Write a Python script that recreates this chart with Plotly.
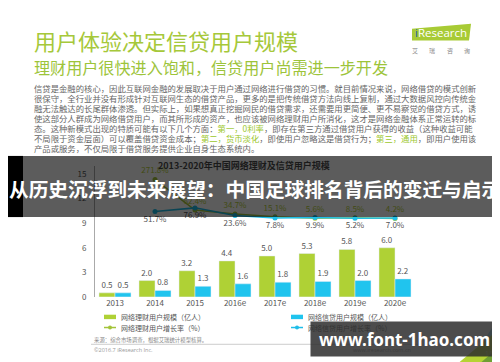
import plotly.graph_objects as go

# ---------------- data ----------------
years = ["2013", "2014", "2015", "2016e", "2017e", "2018e", "2019e", "2020e"]
wealth_users = [0.5, 2.0, 3.2, 4.4, 5.0, 5.3, 5.8, 6.0]      # 网络理财用户规模（亿人）
credit_users = [0.5, 0.8, 1.3, 1.6, 1.8, 1.9, 2.0, 2.2]      # 网络信贷用户规模（亿人）
wealth_growth = [None, 271.8, 62.4, 34.7, 15.1, 5.6, 8.5, 4.2]  # 网络理财用户增长率（%）
credit_growth = [None, 51.7, 76.9, 23.6, 7.8, 9.9, 5.2, 7.0]    # 网络信贷用户增长率（%）
y_ticks = [0, 3, 6, 9, 12, 15]

title_main = "用户体验决定信贷用户规模"
title_sub = "理财用户很快进入饱和，信贷用户尚需进一步开发"
chart_title = "2013-2020年中国网络理财及信贷用户规模"
banner = "从历史沉浮到未来展望：中国足球排名背后的变迁与启示"
legend_names = ["网络理财用户规模（亿人）", "网络信贷用户规模（亿人）",
                "网络理财用户增长率（%）", "网络信贷用户增长率（%）"]
GR = "#9cc72c"
paragraph = [
    "信贷是金融的核心，因此互联网金融的发展取决于用户通过网络进行借贷的习惯。就目前情况来说，网络借贷的模式创新",
    "很保守，全行业并没有形成针对互联网生态的借贷产品，更多的是把传统借贷方法向线上复制，通过大数据风控向传统金",
    "融无法触达的长尾群体渗透。但实际上，如果想真正挖掘网民的借贷需求，还需要用更简便、更不易察觉的借贷方式，诱",
    "使这部分人群成为网络借贷用户，而其所形成的资产，也应该被网络理财用户所消化，这才是网络金融体系正常运转的标",
    "态。这种新模式出现的特质可能有以下几个方面：<span style='color:%s'>第一，0利率</span>，即存在第三方通过借贷用户获得的收益（这种收益可能" % GR,
    "不局限于资金层面）可以覆盖借贷资金成本；<span style='color:%s'>第二，货币淡化</span>，即使用户忽略这是借贷行为；<span style='color:%s'>第三，通用</span>，即用户使用该" % (GR, GR),
    "产品或服务，不仅局限于借贷服务提供企业自身生态系统内。",
]

W, H = 500, 362
def px(x): return x / W
def py(y): return 1 - y / H

CJK = "Noto Sans CJK SC"
C_GREEN = "#afd135"
C_CYAN = "#20c4ee"
C_GLINE = "#a3c43a"
C_CLINE = "#1fbde8"

fig = go.Figure()
fig.add_trace(go.Bar(x=years, y=wealth_users, name=legend_names[0], marker_color=C_GREEN,
                     text=[f"{v:.1f}" for v in wealth_users], textposition="outside",
                     textfont=dict(size=8, color="#555", family=CJK), cliponaxis=False))
fig.add_trace(go.Bar(x=years, y=credit_users, name=legend_names[1], marker_color=C_CYAN,
                     text=[f"{v:.1f}" for v in credit_users], textposition="outside",
                     textfont=dict(size=8, color="#555", family=CJK), cliponaxis=False))
fig.add_trace(go.Scatter(x=years, y=wealth_growth, yaxis="y2", name=legend_names[2],
                         mode="lines+markers+text", line=dict(color=C_GLINE, width=1.5),
                         marker=dict(size=5, color=C_GLINE),
                         text=["" if v is None else f"{v}%" for v in wealth_growth],
                         textposition="top center", textfont=dict(size=8, color="#b5cf3a", family=CJK),
                         cliponaxis=False))
fig.add_trace(go.Scatter(x=years, y=credit_growth, yaxis="y2", name=legend_names[3],
                         mode="lines+markers+text", line=dict(color=C_CLINE, width=1.5),
                         marker=dict(size=5, color=C_CLINE),
                         text=["" if v is None else f"{v}%" for v in credit_growth],
                         textposition="bottom center", textfont=dict(size=8, color="#555", family=CJK),
                         cliponaxis=False))

shapes = []
def rect(x0, y0, x1, y1, fill, layer="above"):
    shapes.append(dict(type="rect", xref="paper", yref="paper", x0=px(x0), x1=px(x1),
                       y0=py(y1), y1=py(y0), fillcolor=fill, line=dict(width=0), layer=layer))
def path(pts, fill):
    d = "M " + " L ".join(f"{px(x)},{py(y)}" for x, y in pts) + " Z"
    shapes.append(dict(type="path", xref="paper", yref="paper", path=d, fillcolor=fill,
                       line=dict(width=0), layer="above"))

# legend markers
rect(96, 311, 108, 315.5, C_GREEN)
rect(283, 311, 295, 315.5, C_CYAN)
shapes.append(dict(type="line", xref="paper", yref="paper", x0=px(96), x1=px(108), y0=py(324), y1=py(324),
                   line=dict(color=C_GLINE, width=1.5), layer="above"))
shapes.append(dict(type="line", xref="paper", yref="paper", x0=px(283), x1=px(295), y0=py(324), y1=py(324),
                   line=dict(color=C_CLINE, width=1.5), layer="above"))
shapes.append(dict(type="circle", xref="paper", yref="paper", x0=px(100), x1=px(104), y0=py(326), y1=py(322),
                   fillcolor=C_GLINE, line=dict(width=0), layer="above"))
shapes.append(dict(type="circle", xref="paper", yref="paper", x0=px(287), x1=px(291), y0=py(326), y1=py(322),
                   fillcolor=C_CLINE, line=dict(width=0), layer="above"))
# source separator line
shapes.append(dict(type="line", xref="paper", yref="paper", x0=px(83), x1=px(410), y0=py(341), y1=py(341),
                   line=dict(color="#cccccc", width=1), layer="above"))
# logo
path([(404, 21), (463, 16), (461, 33), (404, 33)], "#a8cb35")
# decorative triangles
path([(500, 300), (470, 346), (500, 346)], "#8fd3ee")
path([(448, 362), (500, 318), (500, 362)], "#b5d334")
path([(470, 362), (500, 336), (500, 362)], "#6f9f34")
# dark banner band
rect(0, 150, 500, 212, "rgba(0,0,0,0.64)")
rect(0, 150, 15, 212, "#000000")
rect(492, 150, 500, 212, "#000000")

ann = []
def text(x, y, s, size, color, anchor="left", family=CJK, **kw):
    ann.append(dict(xref="paper", yref="paper", x=px(x), y=py(y), text=s, showarrow=False,
                    xanchor=anchor, yanchor="middle", font=dict(size=size, color=color, family=family), **kw))

text(24, 32, title_main, 22, "#a6c83a")
text(24, 60, title_sub, 16.1, "#9dc43a")
text(433, 25, "<span style='color:#1a5fa8'>i</span>Research", 11.5, "#ffffff", anchor="center", family="Open Sans")
for i, ch in enumerate("艾瑞咨询"):
    text(407 + i * 17.3, 43, ch, 6, "#888", anchor="center")
for i, line in enumerate(paragraph):
    text(24, 81 + i * 10.1, line, 8.35, "#666")
text(236, 160, "<b>" + chart_title + "</b>", 9, "#1a1a1a", anchor="center")
text(111, 313, legend_names[0], 7, "#555")
text(298, 313, legend_names[1], 7, "#555")
text(111, 324.5, legend_names[2], 7, "#555")
text(298, 324.5, legend_names[3], 7, "#555")
text(84, 337, "来源：综合市场调查，根据艾瑞统计模型核算。", 5.4, "#888")
text(84, 347, "©2016.7 iResearch Inc.", 5.5, "#999", family="Open Sans")
text(343, 347, "www.iresearch.com.cn", 5.5, "#999", family="Open Sans")
text(481, 350, "11", 7, "#cfe3a0", anchor="center", family="Open Sans")
# watermark box
ann.append(dict(xref="paper", yref="paper", x=px(396.5), y=py(336), xanchor="center", yanchor="middle",
                text="<b>www.font-1hao.com</b>", showarrow=False, width=187, height=34,
                bgcolor="rgba(45,45,45,0.85)", borderpad=0,
                font=dict(size=17, color="#ffffff", family="Noto Sans")))
# banner text
text(247, 183, "<b>" + banner + "</b>", 19.7, "#ffffff", anchor="center")

fig.update_layout(
    width=W, height=H, autosize=False,
    margin=dict(l=0, r=0, t=0, b=0),
    paper_bgcolor="white", plot_bgcolor="white",
    showlegend=False,
    barmode="group", bargap=0.2, bargroupgap=0,
    xaxis=dict(domain=[px(87), px(407)], type="category", showline=False, ticks="",
               showgrid=False, tickfont=dict(size=8, color="#555", family=CJK)),
    yaxis=dict(domain=[py(293), py(160)], range=[0, 16], tickvals=y_ticks, showline=True,
               linecolor="#aaaaaa", linewidth=1, showgrid=False, zeroline=False, ticks="",
               ticklabelstandoff=6, tickfont=dict(size=8, color="#555", family=CJK)),
    yaxis2=dict(overlaying="y", range=[-537, 367], visible=False),
    shapes=shapes, annotations=ann,
    font=dict(family=CJK),
)

fig.write_html("out.html")
